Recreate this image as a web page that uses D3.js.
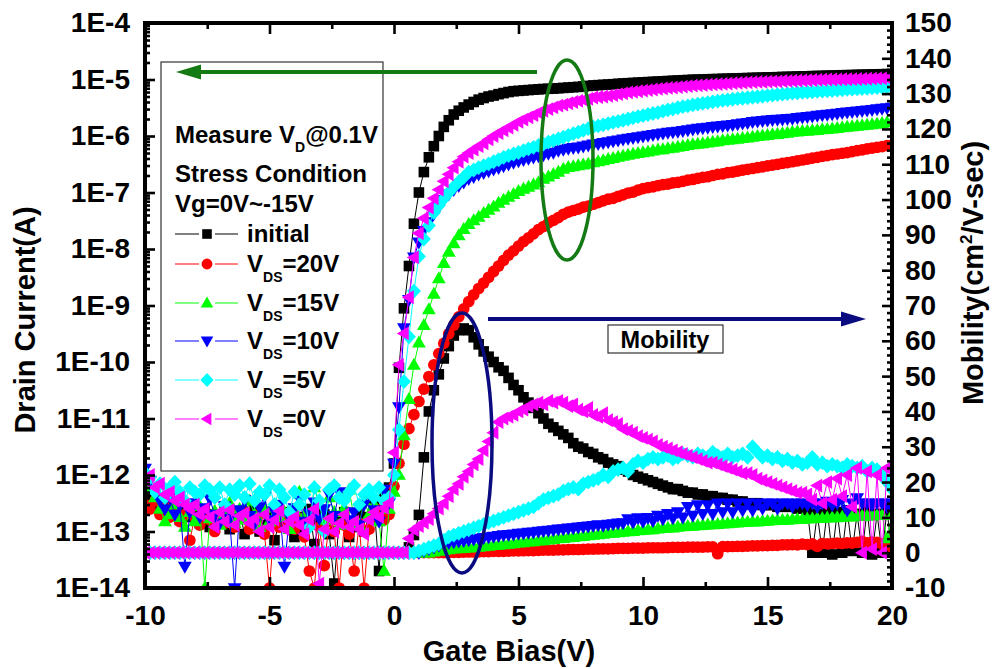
<!DOCTYPE html>
<html><head><meta charset="utf-8">
<script src="https://cdn.jsdelivr.net/npm/d3@7"></script>
<style>
html,body{margin:0;padding:0;background:#fff;}
svg{display:block;font-family:"Liberation Sans",Arial,Helvetica,sans-serif;font-weight:bold;}
</style></head><body>
<svg id="chart" width="992" height="669"></svg>
<script>
// ---------- data ----------
const vg = d3.range(151).map(i => +(-10 + i * 0.2).toFixed(1)); // gate bias grid, 0.2 V steps
const xTicks = [-10, -5, 0, 5, 10, 15, 20];
const leftTicks = [1e-14, 1e-13, 1e-12, 1e-11, 1e-10, 1e-9, 1e-8, 1e-7, 1e-6, 1e-5, 1e-4];
const rightTicks = [-10, 0, 10, 20, 30, 40, 50, 60, 70, 80, 90, 100, 110, 120, 130, 140, 150];
const seriesNames = ["initial", "20V", "15V", "10V", "5V", "0V"];
const seriesColors = ["#000000", "#ff0000", "#00ff00", "#0000ff", "#00ffff", "#ff00ff"];
const seriesMarkers = ["square", "circle", "up", "down", "diamond", "left"];

// Drain current (A)
const idInitial = [
4e-13,3e-13,5e-13,2.5e-13,3.5e-13,2e-13,3e-13,1.6e-13,2.2e-13,1.8e-13,
2.6e-13,1.4e-13,2.4e-13,1.2e-13,2e-13,1.5e-13,2.8e-13,1.1e-13,1.7e-13,2.2e-13,
9e-14,1.6e-13,2.4e-13,1e-13,1.3e-13,2e-13,7e-14,1.5e-13,2.2e-13,1.2e-13,
8e-14,1.8e-13,1.1e-13,2.5e-13,6e-14,1.4e-13,2e-13,9e-14,1.2e-14,1.6e-13,
2.2e-13,8e-14,1.2e-13,2e-13,1e-13,1.8e-13,3e-13,2e-14,4e-13,6e-13,
1.6e-12,7.9e-11,8.9e-10,5e-9,2.8e-8,1e-7,2.3e-7,4.2e-7,6.6e-7,1e-6,
1.45e-6,1.9e-6,2.4e-6,2.8e-6,3.2e-6,3.6e-6,4.0e-6,4.4e-6,4.7e-6,5.0e-6,
5.2e-6,5.5e-6,5.75e-6,6.0e-6,6.2e-6,6.3e-6,6.4e-6,6.5e-6,6.6e-6,6.7e-6,
6.8e-6,6.85e-6,6.9e-6,7.0e-6,7.1e-6,7.2e-6,7.3e-6,7.4e-6,7.55e-6,7.7e-6,
7.85e-6,7.95e-6,8.05e-6,8.15e-6,8.25e-6,8.4e-6,8.5e-6,8.6e-6,8.7e-6,8.8e-6,
8.9e-6,9.0e-6,9.1e-6,9.2e-6,9.3e-6,9.4e-6,9.5e-6,9.6e-6,9.7e-6,9.8e-6,
9.9e-6,9.95e-6,1.0e-5,1.01e-5,1.015e-5,1.02e-5,1.03e-5,1.035e-5,1.04e-5,1.05e-5,
1.055e-5,1.06e-5,1.07e-5,1.075e-5,1.08e-5,1.09e-5,1.095e-5,1.1e-5,1.11e-5,1.115e-5,
1.12e-5,1.13e-5,1.135e-5,1.14e-5,1.15e-5,1.155e-5,1.16e-5,1.17e-5,1.175e-5,1.18e-5,
1.19e-5,1.195e-5,1.2e-5,1.21e-5,1.215e-5,1.22e-5,1.23e-5,1.235e-5,1.24e-5,1.25e-5,
1.26e-5];
const idVds20 = [
3e-13,2.5e-13,3.5e-13,2e-13,2.8e-13,1.8e-13,2.4e-13,1.5e-13,2e-13,7e-14,
1.8e-13,1.3e-13,2.2e-13,1.6e-13,1e-13,1.9e-13,1.4e-13,2.5e-13,1.2e-13,1.7e-13,
2.3e-13,1.1e-13,1.6e-13,2e-13,9e-14,1e-14,1.5e-13,1.2e-13,2.1e-13,1.4e-13,
1.1e-13,1.7e-13,8e-14,2e-14,1e-14,1.2e-13,2.5e-14,1.5e-13,1e-13,1e-14,
1.3e-13,9e-14,2e-14,1.4e-13,1e-14,1.1e-13,1.8e-13,2.4e-13,1.6e-13,2e-13,
6.3e-13,1.6e-12,3.5e-12,6.6e-12,1.17e-11,2e-11,3.3e-11,5.5e-11,8.9e-11,1.41e-10,
2.14e-10,3.16e-10,4.5e-10,6.3e-10,8.7e-10,1.17e-9,1.55e-9,2e-9,2.5e-9,3.16e-9,
4e-9,5e-9,6.3e-9,7.8e-9,9.3e-9,1.12e-8,1.35e-8,1.58e-8,1.86e-8,2.2e-8,
2.5e-8,2.9e-8,3.2e-8,3.6e-8,4.1e-8,4.5e-8,4.8e-8,5.1e-8,5.5e-8,5.75e-8,
6.2e-8,6.6e-8,7.1e-8,7.6e-8,7.9e-8,8.5e-8,9.1e-8,9.8e-8,1.02e-7,1.1e-7,
1.17e-7,1.22e-7,1.26e-7,1.32e-7,1.38e-7,1.41e-7,1.48e-7,1.51e-7,1.58e-7,1.66e-7,
1.7e-7,1.78e-7,1.86e-7,1.9e-7,2.0e-7,2.1e-7,2.14e-7,2.24e-7,2.3e-7,2.4e-7,
2.5e-7,2.57e-7,2.66e-7,2.75e-7,2.85e-7,2.95e-7,3.05e-7,3.16e-7,3.27e-7,3.39e-7,
3.5e-7,3.63e-7,3.76e-7,3.9e-7,4.07e-7,4.2e-7,4.37e-7,4.5e-7,4.68e-7,4.8e-7,
4.95e-7,5.1e-7,5.3e-7,5.5e-7,5.7e-7,5.9e-7,6.1e-7,6.3e-7,6.5e-7,6.75e-7,
6.9e-7];
const idVds15 = [
1e-12,6e-13,4e-13,2.5e-13,1.5e-13,2e-13,3e-13,1.8e-13,1.2e-13,2.2e-13,
1.5e-13,2.8e-13,1e-14,1.7e-13,2.3e-13,1.3e-13,2e-13,3.2e-13,1.4e-13,2.5e-13,
1.6e-13,3.5e-13,2e-13,1.2e-13,2.6e-13,1.5e-13,3e-13,1.8e-13,2.2e-13,1.1e-13,
2.4e-13,5e-13,1.9e-13,1.4e-13,6e-13,3e-13,1.6e-13,4e-13,2.2e-13,1.3e-13,
2.6e-13,5.5e-13,1.7e-13,1.3e-13,3.5e-13,2e-13,3e-13,1.5e-13,2e-14,2.5e-13,
5e-13,1e-12,5e-12,2.2e-11,8.9e-11,2.2e-10,4.5e-10,8.5e-10,1.6e-9,3e-9,
5.6e-9,8.9e-9,1.26e-8,1.74e-8,2.24e-8,2.75e-8,3.2e-8,3.7e-8,4.3e-8,4.9e-8,
5.6e-8,6.5e-8,7.4e-8,8.3e-8,9.3e-8,1.05e-7,1.15e-7,1.26e-7,1.38e-7,1.51e-7,
1.74e-7,1.9e-7,2.1e-7,2.3e-7,2.6e-7,2.8e-7,2.9e-7,3.0e-7,3.1e-7,3.2e-7,
3.4e-7,3.55e-7,3.7e-7,3.9e-7,4.05e-7,4.25e-7,4.45e-7,4.6e-7,4.8e-7,4.95e-7,
5.1e-7,5.3e-7,5.5e-7,5.7e-7,5.8e-7,6.0e-7,6.15e-7,6.4e-7,6.6e-7,6.85e-7,
7.1e-7,7.25e-7,7.4e-7,7.6e-7,7.85e-7,8.0e-7,8.3e-7,8.5e-7,8.7e-7,8.9e-7,
9.1e-7,9.3e-7,9.65e-7,9.9e-7,1.01e-6,1.035e-6,1.06e-6,1.08e-6,1.11e-6,1.135e-6,
1.175e-6,1.19e-6,1.22e-6,1.23e-6,1.26e-6,1.27e-6,1.3e-6,1.32e-6,1.35e-6,1.38e-6,
1.41e-6,1.45e-6,1.48e-6,1.51e-6,1.53e-6,1.57e-6,1.6e-6,1.64e-6,1.68e-6,1.74e-6,
1.78e-6];
const idVds10 = [
1.3e-12,8e-13,5e-13,3.5e-13,2.5e-13,4e-13,2e-13,3e-13,2.4e-14,2.2e-13,
3.2e-13,1.8e-13,2.6e-13,3.8e-13,2e-13,1.4e-13,2.8e-13,1.7e-13,1e-14,2.4e-13,
3.6e-13,1.9e-13,1.4e-13,2.7e-13,4.2e-13,1.6e-13,2.3e-13,3e-13,2.4e-14,1.8e-13,
2.6e-13,3.8e-13,1.5e-13,2.1e-13,3.3e-13,1.7e-13,2.5e-13,4.5e-13,1.9e-13,5e-13,
3.5e-13,1.6e-13,2.2e-13,1.3e-13,3e-13,4.6e-13,2.4e-13,1.5e-13,5.5e-13,3.2e-13,
1.6e-12,1.6e-11,4e-10,1.26e-9,7.1e-9,1.32e-8,2.1e-8,3.0e-8,4.2e-8,5.5e-8,
7.4e-8,9.3e-8,1.12e-7,1.32e-7,1.51e-7,1.74e-7,1.9e-7,2.1e-7,2.24e-7,2.4e-7,
2.57e-7,2.75e-7,2.95e-7,3.16e-7,3.4e-7,3.6e-7,3.8e-7,4.0e-7,4.2e-7,4.4e-7,
4.6e-7,4.9e-7,5.1e-7,5.5e-7,5.75e-7,6.0e-7,6.2e-7,6.3e-7,6.6e-7,6.85e-7,
7.1e-7,7.3e-7,7.6e-7,7.85e-7,8.1e-7,8.4e-7,8.7e-7,9.0e-7,9.3e-7,9.55e-7,
9.9e-7,1.02e-6,1.05e-6,1.08e-6,1.12e-6,1.15e-6,1.17e-6,1.2e-6,1.23e-6,1.27e-6,
1.32e-6,1.35e-6,1.38e-6,1.41e-6,1.45e-6,1.48e-6,1.51e-6,1.55e-6,1.58e-6,1.62e-6,
1.68e-6,1.72e-6,1.78e-6,1.82e-6,1.86e-6,1.9e-6,1.93e-6,1.95e-6,1.97e-6,2.02e-6,
2.04e-6,2.09e-6,2.14e-6,2.19e-6,2.24e-6,2.29e-6,2.34e-6,2.4e-6,2.45e-6,2.5e-6,
2.57e-6,2.63e-6,2.69e-6,2.75e-6,2.79e-6,2.85e-6,2.92e-6,2.99e-6,3.05e-6,3.13e-6,
3.2e-6];
const idVds5 = [
1.1e-12,9e-13,5e-13,7e-13,4e-13,6e-13,7.5e-13,5e-13,3.5e-13,6e-13,
5e-13,4.5e-13,6.5e-13,5.5e-13,4e-13,6e-13,3e-13,5.5e-13,4.5e-13,6.5e-13,
4e-13,7e-13,3.5e-13,5e-13,4.5e-13,6.5e-13,3e-13,5.5e-13,4e-13,2.2e-13,
5e-13,3e-13,4.5e-13,1.2e-13,6e-13,3.5e-13,1e-13,5.5e-13,6.5e-13,4e-13,
3.5e-13,5e-13,6.5e-13,3e-13,4.5e-13,5.5e-13,4e-13,6e-13,3.5e-13,4e-13,
1e-12,6.3e-12,4.5e-11,2.8e-10,1.8e-9,7.4e-9,1.5e-8,2.6e-8,4.4e-8,5.9e-8,
7.8e-8,1e-7,1.26e-7,1.55e-7,1.86e-7,2.3e-7,2.5e-7,2.75e-7,3.0e-7,3.2e-7,
3.5e-7,3.8e-7,4.2e-7,4.5e-7,4.8e-7,5.1e-7,5.5e-7,5.9e-7,6.3e-7,6.8e-7,
7.2e-7,7.8e-7,8.3e-7,8.9e-7,9.5e-7,1.02e-6,1.1e-6,1.17e-6,1.26e-6,1.35e-6,
1.45e-6,1.51e-6,1.58e-6,1.66e-6,1.74e-6,1.82e-6,1.9e-6,2.0e-6,2.1e-6,2.2e-6,
2.3e-6,2.4e-6,2.5e-6,2.6e-6,2.75e-6,2.9e-6,3.0e-6,3.16e-6,3.3e-6,3.4e-6,
3.55e-6,3.67e-6,3.79e-6,3.9e-6,4.02e-6,4.14e-6,4.26e-6,4.37e-6,4.47e-6,4.57e-6,
4.66e-6,4.75e-6,4.85e-6,4.95e-6,5.05e-6,5.17e-6,5.28e-6,5.4e-6,5.5e-6,5.62e-6,
5.75e-6,5.83e-6,5.9e-6,5.98e-6,6.06e-6,6.14e-6,6.22e-6,6.3e-6,6.39e-6,6.48e-6,
6.57e-6,6.66e-6,6.75e-6,6.85e-6,6.93e-6,7.0e-6,7.08e-6,7.16e-6,7.24e-6,7.32e-6,
7.4e-6];
const idVds0 = [
8e-13,1e-12,6e-13,7e-13,4.5e-13,5e-13,3.5e-13,4e-13,3e-13,2.5e-13,
3e-13,2e-13,2.5e-13,1.8e-13,1.2e-13,2.2e-13,1.5e-13,2.4e-13,1.3e-13,1.9e-13,
2.1e-13,1.4e-13,1.7e-13,1e-13,2e-13,1.2e-13,1.6e-13,2.3e-13,1.1e-13,1.5e-13,
1.8e-13,1.3e-13,9e-14,1.6e-13,2.5e-13,1.2e-14,1.1e-13,1.7e-13,1e-13,1.4e-13,
2e-13,1.2e-13,1.5e-13,1.1e-13,9e-14,1.6e-13,2.2e-13,1.8e-13,2.6e-13,3.2e-13,
2.5e-12,8.9e-11,3.2e-10,1.4e-9,7.1e-9,1.9e-8,3.5e-8,5.4e-8,7.9e-8,1.12e-7,
1.58e-7,2.1e-7,2.75e-7,3.5e-7,4.3e-7,5.0e-7,5.75e-7,6.6e-7,7.4e-7,8.7e-7,
1.0e-6,1.12e-6,1.26e-6,1.41e-6,1.58e-6,1.78e-6,1.95e-6,2.14e-6,2.34e-6,2.57e-6,
2.8e-6,3.0e-6,3.2e-6,3.45e-6,3.6e-6,3.8e-6,4.0e-6,4.2e-6,4.35e-6,4.55e-6,
4.8e-6,4.9e-6,5.0e-6,5.15e-6,5.3e-6,5.5e-6,5.7e-6,5.9e-6,6.05e-6,6.2e-6,
6.35e-6,6.5e-6,6.65e-6,6.8e-6,6.95e-6,7.1e-6,7.2e-6,7.35e-6,7.5e-6,7.65e-6,
7.8e-6,7.9e-6,8.0e-6,8.1e-6,8.2e-6,8.3e-6,8.4e-6,8.5e-6,8.6e-6,8.7e-6,
8.8e-6,8.9e-6,9.0e-6,9.05e-6,9.1e-6,9.2e-6,9.25e-6,9.3e-6,9.4e-6,9.45e-6,
9.5e-6,9.6e-6,9.65e-6,9.7e-6,9.8e-6,9.85e-6,9.9e-6,1.0e-5,1.0e-5,1.005e-5,
1.01e-5,1.01e-5,1.015e-5,1.02e-5,1.025e-5,1.03e-5,1.04e-5,1.045e-5,1.05e-5,1.06e-5,
1.07e-5];

// Mobility (cm2/V-sec)
const muInitial = [
0,0,0,0,0,0,0,0,0,0, 0,0,0,0,0,0,0,0,0,0, 0,0,0,0,0,0,0,0,0,0, 0,0,0,0,0,0,0,0,0,0, 0,0,0,0,0,0,0,0,0,0,
0,0,0,1.5,5,10.7,27,40,46,50.5,
55,58.5,61.5,63,63.5,63,61,59,57,55.5,
54,52.5,51.5,49.5,47.5,46,44,42.5,41,39.5,
38,36.5,35.5,34.5,33.5,32.5,31,30,29.5,28.5,
28,27,26.5,25.5,25,24.5,23.5,23,22,21.5,
21,20.5,20,19.5,19,18.5,18,18,17.5,17,
17,16.5,16.5,16,16,15.5,15.5,15,15,14.5,
14.5,14,14,14,13.5,13.5,13.5,13,13,13,
13,12.5,12.5,12,0,11,0,12,-0.5,11.5,
0,12,0.5,11,0,12,-0.5,11,0,12,
0];
const muVds20 = [
0,0,0,0,0,0,0,0,0,0, 0,0,0,0,0,0,0,0,0,0, 0,0,0,0,0,0,0,0,0,0, 0,0,0,0,0,0,0,0,0,0, 0,0,0,0,0,0,0,0,0,0,
0,0,0,0,0,0,0,0,0,0,
0,0.05,0.1,0.1,0.15,0.2,0.2,0.25,0.3,0.3,
0.35,0.4,0.4,0.45,0.5,0.5,0.55,0.6,0.6,0.65,
0.7,0.7,0.75,0.8,0.8,0.85,0.9,0.9,0.95,1.0,
1.0,1.05,1.1,1.1,1.15,1.2,1.2,1.25,1.3,1.3,
1.3,1.35,1.4,1.4,1.4,1.45,1.5,1.5,1.5,1.55,
1.55,1.6,1.6,1.65,1.65,-0.3,1.7,1.7,1.75,1.8,
1.8,1.85,1.9,1.9,2.0,2.0,2.1,2.1,2.2,2.2,
2.3,2.2,2.4,2.3,2.5,1.8,2.6,2.5,2.6,2.7,
2.6,2.8,2.7,2.9,3.2,2.8,3.0,2.9,2.5,2.8,
1.5];
const muVds15 = [
0,0,0,0,0,0,0,0,0,0, 0,0,0,0,0,0,0,0,0,0, 0,0,0,0,0,0,0,0,0,0, 0,0,0,0,0,0,0,0,0,0, 0,0,0,0,0,0,0,0,0,0,
0,0,0,0,0,0,0,0,0.3,0.5,
0.7,0.9,1.1,1.2,1.3,1.4,1.5,1.6,1.8,1.9,
2.1,2.2,2.3,2.5,2.6,2.8,2.9,3.1,3.2,3.4,
3.5,3.7,3.8,4.0,4.1,4.3,4.4,4.6,4.7,4.9,
5.0,5.2,5.3,5.5,5.6,5.7,5.9,6.0,6.1,6.3,
6.4,6.5,6.6,6.8,6.9,7.0,7.1,7.3,7.4,7.5,
7.6,7.7,7.8,7.9,8.0,8.1,8.2,8.3,8.4,8.5,
8.6,8.7,8.8,8.8,8.9,9.0,9.1,9.2,9.2,9.3,
9.4,9.5,9.5,9.6,9.7,9.8,9.8,9.9,10.0,10.0,
10.1,10.2,10.2,10.3,10.4,10.4,10.5,10.6,10.6,4.0,
10.7];
const muVds10 = [
0,0,0,0,0,0,0,0,0,0, 0,0,0,0,0,0,0,0,0,0, 0,0,0,0,0,0,0,0,0,0, 0,0,0,0,0,0,0,0,0,0, 0,0,0,0,0,0,0,0,0,0,
0,0,0,0,0,0,0.5,1,1.5,2,
2.5,2.8,3.0,3.2,3.4,3.6,3.8,4.0,4.2,4.4,
4.6,4.8,5.0,5.1,5.2,5.4,5.5,5.7,5.8,6.0,
6.1,6.3,6.4,6.6,6.7,6.9,7.0,7.2,7.3,7.5,
7.6,7.8,7.7,8.0,8.1,8.3,8.4,9.5,8.6,9.8,
8.8,9.9,9.0,10.5,9.5,11,9.8,11.5,10,13,
10.5,13.5,11,13.5,11,14,11.5,14,11.5,14,
12,14,12,14,12.5,14,14,12.5,14,14,
13,14,14,13.5,14,13,14,14.5,13.5,14,
15,12,14,15.5,14,14,13.5,14,14,13,
14];
const muVds5 = [
0,0,0,0,0,0,0,0,0,0, 0,0,0,0,0,0,0,0,0,0, 0,0,0,0,0,0,0,0,0,0, 0,0,0,0,0,0,0,0,0,0, 0,0,0,0,0,0,0,0,0,0,
0,0,0,0,0,0.5,1,1.5,2,2.5,
3.5,4.5,5,5.5,6,6.5,7,7.5,8,8.5,
9,9.5,10,10.5,11,11.5,12,12.5,13,14,
15,15.5,16,16.5,17.5,18,18.5,18,19.5,20,
20.5,21,22,21.5,23,23.5,24,23,25,26,
25.5,26.5,27,26.5,27,27.5,26.5,27,28,27.5,
27,28,27.5,27,28.5,27.5,27,28,27,27.5,
28,27,30,28.5,27,27.5,26.5,27,26,26.5,
25.5,26,25,25.5,27,25,25.5,24.5,25,24.5,
24,25,24.5,24,24.5,23,24,23.5,22,20,
18];
const muVds0 = [
0,0,0,0,0,0,0,0,0,0, 0,0,0,0,0,0,0,0,0,0, 0,0,0,0,0,0,0,0,0,0, 0,0,0,0,0,0,0,0,0,0, 0,0,0,0,0,0,0,0,0,0,
0,0,0,4,6.5,7.5,8.5,9.5,11,12.5,
14,16,18,19.5,21.5,23,25,26.5,29,31.5,
34,37,38,38.5,39,40,40.5,41.5,42,42.5,
42,43,42.5,43,42.5,41.5,42,40.5,40,41,
39,38.5,39.5,37.5,37,36.5,35,34.5,34,33,
32.5,32,31.5,30.5,30,29.5,29,28.5,28,27.5,
27,26.5,26,25.5,25.5,25,24.5,24,23.5,23,
22.5,22.5,22,21,20.5,20,19.5,19,18.5,18,
17.5,17,17,16.5,15,19,14,20,15,21,
16,22,13,24,0,23,1,22,0,24,
23];

const currents = [idInitial, idVds20, idVds15, idVds10, idVds5, idVds0];
const mobilities = [muInitial, muVds20, muVds15, muVds10, muVds5, muVds0];

// ---------- layout ----------
const L = 145, R = 892, T = 23, B = 588;
const FONT = '"Liberation Sans", Arial, Helvetica, sans-serif';
const svg = d3.select("#chart");
const x = d3.scaleLinear().domain([-10, 20]).range([L, R]);
const yI = d3.scaleLog().domain([1e-14, 1e-4]).range([B, T]);
const yM = d3.scaleLinear().domain([-10, 150]).range([B, T]);

const markerPaths = {
  square: "M-5.3,-5.3H5.3V5.3H-5.3Z",
  circle: d3.symbol(d3.symbolCircle, 108)(),
  up: "M0,-7.2L6.9,4.8L-6.9,4.8Z",
  down: "M0,7.2L6.9,-4.8L-6.9,-4.8Z",
  diamond: "M0,-7.4L7,0L0,7.4L-7,0Z",
  left: "M-7.2,0L4.8,-6.9L4.8,6.9Z"
};

svg.append("defs").append("clipPath").attr("id", "clip")
  .append("rect").attr("x", L).attr("y", T).attr("width", R - L).attr("height", B - T);

const plot = svg.append("g").attr("clip-path", "url(#clip)");
const line = d3.line();

seriesNames.forEach((name, k) => {
  const color = seriesColors[k];
  const g = plot.append("g");
  const ptsI = vg.map((v, i) => [x(v), yI(currents[k][i])]);
  const ptsM = vg.map((v, i) => [x(v), yM(mobilities[k][i])]);
  [ptsI, ptsM].forEach(pts => {
    g.append("path").attr("d", line(pts)).attr("fill", "none")
      .attr("stroke", color).attr("stroke-width", 1);
    g.selectAll(null).data(pts).enter().append("path")
      .attr("d", markerPaths[seriesMarkers[k]])
      .attr("transform", d => `translate(${d[0]},${d[1]})`)
      .attr("fill", color);
  });
});

// ---------- axes ----------
function styleAxis(g) {
  g.select(".domain").remove();
  g.attr("font-size", 28).attr("font-family", FONT).attr("font-weight", "bold");
  g.selectAll("line").attr("stroke", "#000").attr("stroke-width", 2.6);
  g.selectAll("text").attr("fill", "#000");
}
const fmt = d => String(d);
const xMinor = [-7.5, -2.5, 2.5, 7.5, 12.5, 17.5];
svg.append("g").attr("transform", `translate(0,${B})`)
  .call(d3.axisBottom(x).tickValues(xTicks).tickFormat(fmt).tickSize(-11).tickSizeOuter(0).tickPadding(17)).call(styleAxis);
svg.append("g").attr("transform", `translate(0,${B})`)
  .call(d3.axisBottom(x).tickValues(xMinor).tickFormat("").tickSize(-6).tickSizeOuter(0)).call(styleAxis);
svg.append("g").attr("transform", `translate(0,${T})`)
  .call(d3.axisTop(x).tickValues(xTicks).tickFormat("").tickSize(-11).tickSizeOuter(0)).call(styleAxis);
svg.append("g").attr("transform", `translate(0,${T})`)
  .call(d3.axisTop(x).tickValues(xMinor).tickFormat("").tickSize(-6).tickSizeOuter(0)).call(styleAxis);

const leftMinor = [];
for (let e = -14; e < -4; e++) for (let m = 2; m <= 9; m++) leftMinor.push(m * Math.pow(10, e));
svg.append("g").attr("transform", `translate(${L},0)`)
  .call(d3.axisLeft(yI).tickValues(leftTicks).tickFormat(d => "1E" + Math.round(Math.log10(d))).tickSize(-10).tickSizeOuter(0).tickPadding(15)).call(styleAxis);
svg.append("g").attr("transform", `translate(${L},0)`)
  .call(d3.axisLeft(yI).tickValues(leftMinor).tickFormat("").tickSize(-5).tickSizeOuter(0)).call(styleAxis);

const rightMinor = d3.range(-10, 151, 2).filter(v => v % 10 !== 0);
svg.append("g").attr("transform", `translate(${R},0)`)
  .call(d3.axisRight(yM).tickValues(rightTicks).tickFormat(fmt).tickSize(-10).tickSizeOuter(0).tickPadding(13)).call(styleAxis);
svg.append("g").attr("transform", `translate(${R},0)`)
  .call(d3.axisRight(yM).tickValues(rightMinor).tickFormat("").tickSize(-5).tickSizeOuter(0)).call(styleAxis);

svg.append("rect").attr("x", L).attr("y", T).attr("width", R - L).attr("height", B - T)
  .attr("fill", "none").attr("stroke", "#000").attr("stroke-width", 4);

// axis titles
svg.append("text").attr("x", 509).attr("y", 661).attr("text-anchor", "middle")
  .attr("font-size", 29).text("Gate Bias(V)");
svg.append("text").attr("transform", "translate(35,320) rotate(-90)").attr("text-anchor", "middle")
  .attr("font-size", 29).text("Drain Current(A)");
const rt = svg.append("text").attr("transform", "translate(983,273) rotate(-90)").attr("text-anchor", "middle")
  .attr("font-size", 29);
rt.append("tspan").text("Mobility(cm");
rt.append("tspan").attr("font-size", 17).attr("dy", -11).text("2");
rt.append("tspan").attr("dy", 11).text("/V-sec)");

// ---------- legend ----------
const lg = svg.append("g").attr("font-size", 24);
lg.append("rect").attr("x", 161).attr("y", 62).attr("width", 222).attr("height", 409)
  .attr("fill", "#fff").attr("stroke", "#333").attr("stroke-width", 1.2);
const t1 = lg.append("text").attr("x", 175).attr("y", 143);
t1.append("tspan").text("Measure V");
t1.append("tspan").attr("font-size", 14).attr("dy", 9).text("D");
t1.append("tspan").attr("dy", -9).text("@0.1V");
lg.append("text").attr("x", 175).attr("y", 182).text("Stress Condition");
lg.append("text").attr("x", 175).attr("y", 212).text("Vg=0V~-15V");

const legendY = [234, 264, 303, 341, 380, 419];
const legendMarkers = {
  square: "M-4.8,-4.8H4.8V4.8H-4.8Z",
  circle: d3.symbol(d3.symbolCircle, 92)(),
  up: "M0,-6.6L6.3,4.4L-6.3,4.4Z",
  down: "M0,6.6L6.3,-4.4L-6.3,-4.4Z",
  diamond: "M0,-7L6.6,0L0,7L-6.6,0Z",
  left: "M-6.6,0L4.4,-6.3L4.4,6.3Z"
};
seriesNames.forEach((name, k) => {
  const y = legendY[k], c = seriesColors[k];
  lg.append("line").attr("x1", 175).attr("x2", 199).attr("y1", y).attr("y2", y).attr("stroke", c).attr("stroke-width", 1);
  lg.append("line").attr("x1", 215).attr("x2", 238).attr("y1", y).attr("y2", y).attr("stroke", c).attr("stroke-width", 1);
  lg.append("path").attr("d", legendMarkers[seriesMarkers[k]]).attr("transform", `translate(207,${y})`).attr("fill", c);
  const t = lg.append("text").attr("x", 247).attr("y", y + 8);
  if (k === 0) {
    t.text("initial");
  } else {
    t.append("tspan").text("V");
    t.append("tspan").attr("font-size", 14).attr("dy", 10).text("DS");
    t.append("tspan").attr("dy", -10).text("=" + name);
  }
});

// ---------- annotations (on top of legend) ----------
const GREEN = "#147a14", NAVY = "#0b0b80";
svg.append("line").attr("x1", 537).attr("y1", 72).attr("x2", 196).attr("y2", 72)
  .attr("stroke", GREEN).attr("stroke-width", 4);
svg.append("path").attr("d", "M176,72L201,64.5L201,79.5Z").attr("fill", GREEN);
svg.append("ellipse").attr("cx", 567).attr("cy", 160).attr("rx", 26).attr("ry", 100)
  .attr("fill", "none").attr("stroke", GREEN).attr("stroke-width", 3.5);

svg.append("ellipse").attr("cx", 462).attr("cy", 443).attr("rx", 30).attr("ry", 130)
  .attr("fill", "none").attr("stroke", NAVY).attr("stroke-width", 3.5);
svg.append("line").attr("x1", 488).attr("y1", 319).attr("x2", 846).attr("y2", 319)
  .attr("stroke", NAVY).attr("stroke-width", 4);
svg.append("path").attr("d", "M866,319L841,311.5L841,326.5Z").attr("fill", NAVY);

svg.append("rect").attr("x", 608).attr("y", 325).attr("width", 115).attr("height", 28)
  .attr("fill", "#fff").attr("stroke", "#333").attr("stroke-width", 1.2);
svg.append("text").attr("x", 665).attr("y", 348).attr("text-anchor", "middle")
  .attr("font-size", 23.5).text("Mobility");
</script>
</body></html>
